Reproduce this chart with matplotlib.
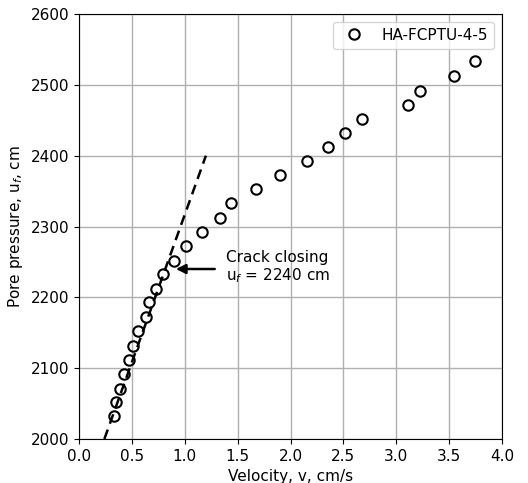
import matplotlib
matplotlib.use("Agg")
import matplotlib.pyplot as plt

# data
velocity = [0.33, 0.35, 0.39, 0.43, 0.47, 0.51, 0.56, 0.63, 0.66, 0.73, 0.79,
            0.90, 1.01, 1.16, 1.33, 1.44, 1.67, 1.90, 2.16, 2.35, 2.52, 2.68,
            3.11, 3.22, 3.55, 3.74]
pore_pressure = [2033, 2052, 2071, 2092, 2112, 2131, 2152, 2172, 2193, 2212, 2233,
                 2251, 2273, 2292, 2312, 2333, 2353, 2373, 2393, 2412, 2432, 2452,
                 2472, 2492, 2513, 2534]
trend_v = [0.24, 1.20]
trend_u = [2000, 2400]
closing_u = 2240

plt.rcParams["font.size"] = 11

fig = plt.figure(figsize=(5.28, 4.83), dpi=100)
ax = fig.add_axes([0.1496, 0.0911, 0.8012, 0.8799])

ax.plot(velocity, pore_pressure, "o", mfc="none", mec="black", mew=1.5,
        ms=7.5, label="HA-FCPTU-4-5", zorder=3)
ax.plot(trend_v, trend_u, "--", color="black", lw=1.8, dashes=(4, 2.5), zorder=2)

ax.annotate("", xy=(0.89, closing_u), xytext=(1.31, closing_u),
            arrowprops=dict(arrowstyle="-|>", color="black", lw=1.8,
                            mutation_scale=14))
ax.text(1.39, closing_u + 2, "Crack closing\nu$_f$ = 2240 cm", va="center",
        ha="left", linespacing=1.05)

ax.set_xlim(0, 4)
ax.set_ylim(2000, 2600)
ax.set_xticks([0.0, 0.5, 1.0, 1.5, 2.0, 2.5, 3.0, 3.5, 4.0])
ax.set_yticks([2000, 2100, 2200, 2300, 2400, 2500, 2600])
ax.grid(True, color="#b0b0b0", lw=1)
ax.set_axisbelow(True)
ax.set_xlabel("Velocity, v, cm/s")
ax.set_ylabel("Pore pressure, u$_f$, cm")
ax.legend(loc="upper right", handletextpad=0.8)

fig.savefig("out.png", dpi=100)
